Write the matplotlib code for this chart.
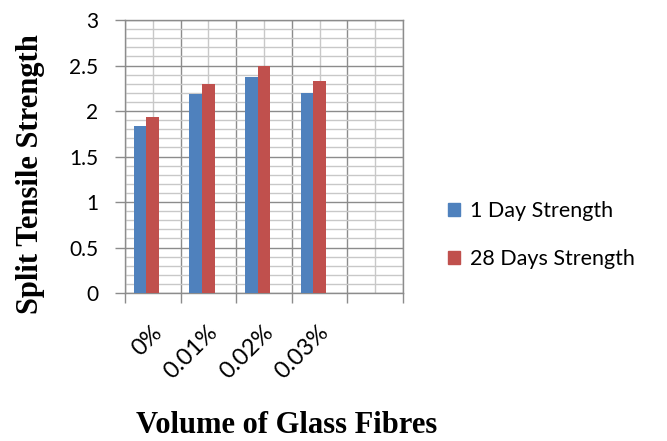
import matplotlib
matplotlib.use("Agg")
import matplotlib.pyplot as plt
import numpy as np
from matplotlib.patches import Patch
from matplotlib.ticker import MultipleLocator

categories = ["0%", "0.01%", "0.02%", "0.03%", ""]
day1 = [1.83, 2.19, 2.37, 2.20]
day28 = [1.93, 2.30, 2.50, 2.33]
series_names = ["1 Day Strength", "28 Days Strength"]

BLUE = "#4f81bd"
RED = "#c0504d"
MAJOR = "#8c8c8c"
MINOR = "#c8c8c8"

fig = plt.figure(figsize=(6.67, 4.41), dpi=100)
ax = fig.add_axes([0.1874, 0.3356, 0.4168, 0.619])

x = np.arange(len(categories))
w = 0.228
ax.bar(x[:len(day1)] - 1.5 * w, day1, width=w, align="edge", color=BLUE, zorder=3)
ax.bar(x[:len(day28)] - 0.5 * w, day28, width=w, align="edge", color=RED, zorder=3)

ax.set_xlim(-0.5, len(categories) - 0.5)
ax.set_ylim(0, 3)

# horizontal grid: 0.5 major, 0.1 minor
ax.yaxis.set_major_locator(MultipleLocator(0.5))
ax.yaxis.set_minor_locator(MultipleLocator(0.1))
ax.grid(axis="y", which="major", color=MAJOR, lw=1.0, zorder=1)
ax.grid(axis="y", which="minor", color=MINOR, lw=1.0, zorder=0)

# vertical grid: category boundaries and centres
for b in np.arange(-0.5, len(categories), 1.0):
    ax.axvline(b, color=MAJOR, lw=1.0, zorder=1)
for c in x:
    ax.axvline(c, color=MINOR, lw=1.0, zorder=0)

ax.set_xticks(np.arange(-0.5, len(categories), 1.0))
ax.set_xticklabels([])
ax.set_xticks(x + 0.1, minor=True)
ax.set_xticklabels(categories, minor=True, rotation=45, ha="right",
                   va="center", rotation_mode="anchor",
                   fontsize=17, family="Lato")
ax.tick_params(axis="x", which="major", length=7, color=MAJOR, width=1)
ax.tick_params(axis="x", which="minor", length=0, pad=26)
ax.tick_params(axis="y", which="major", length=7, color=MAJOR, width=1,
               labelsize=15, pad=12)
ax.tick_params(axis="y", which="minor", length=0)
for lab in ax.get_yticklabels():
    lab.set_family("Lato")
ax.yaxis.set_major_formatter(matplotlib.ticker.FuncFormatter(lambda v, p: f"{v:g}"))

for s in ax.spines.values():
    s.set_color(MAJOR)
    s.set_linewidth(1.0)

fig.text(0.045, 0.605, "Split Tensile Strength", rotation=90, ha="center",
         va="center", fontsize=22, fontweight="bold", family="Liberation Serif")
fig.text(0.429, 0.036, "Volume of Glass Fibres", ha="center", va="center",
         fontsize=22, fontweight="bold", family="Liberation Serif")

handles = [Patch(color=BLUE), Patch(color=RED)]
fig.legend(handles, series_names, loc="center left",
           bbox_to_anchor=(0.643, 0.467), frameon=False, handlelength=0.55,
           handleheight=0.55, handletextpad=0.45, labelspacing=1.3,
           prop={"family": "Lato", "size": 15.5})

fig.savefig("out.png", dpi=100)
